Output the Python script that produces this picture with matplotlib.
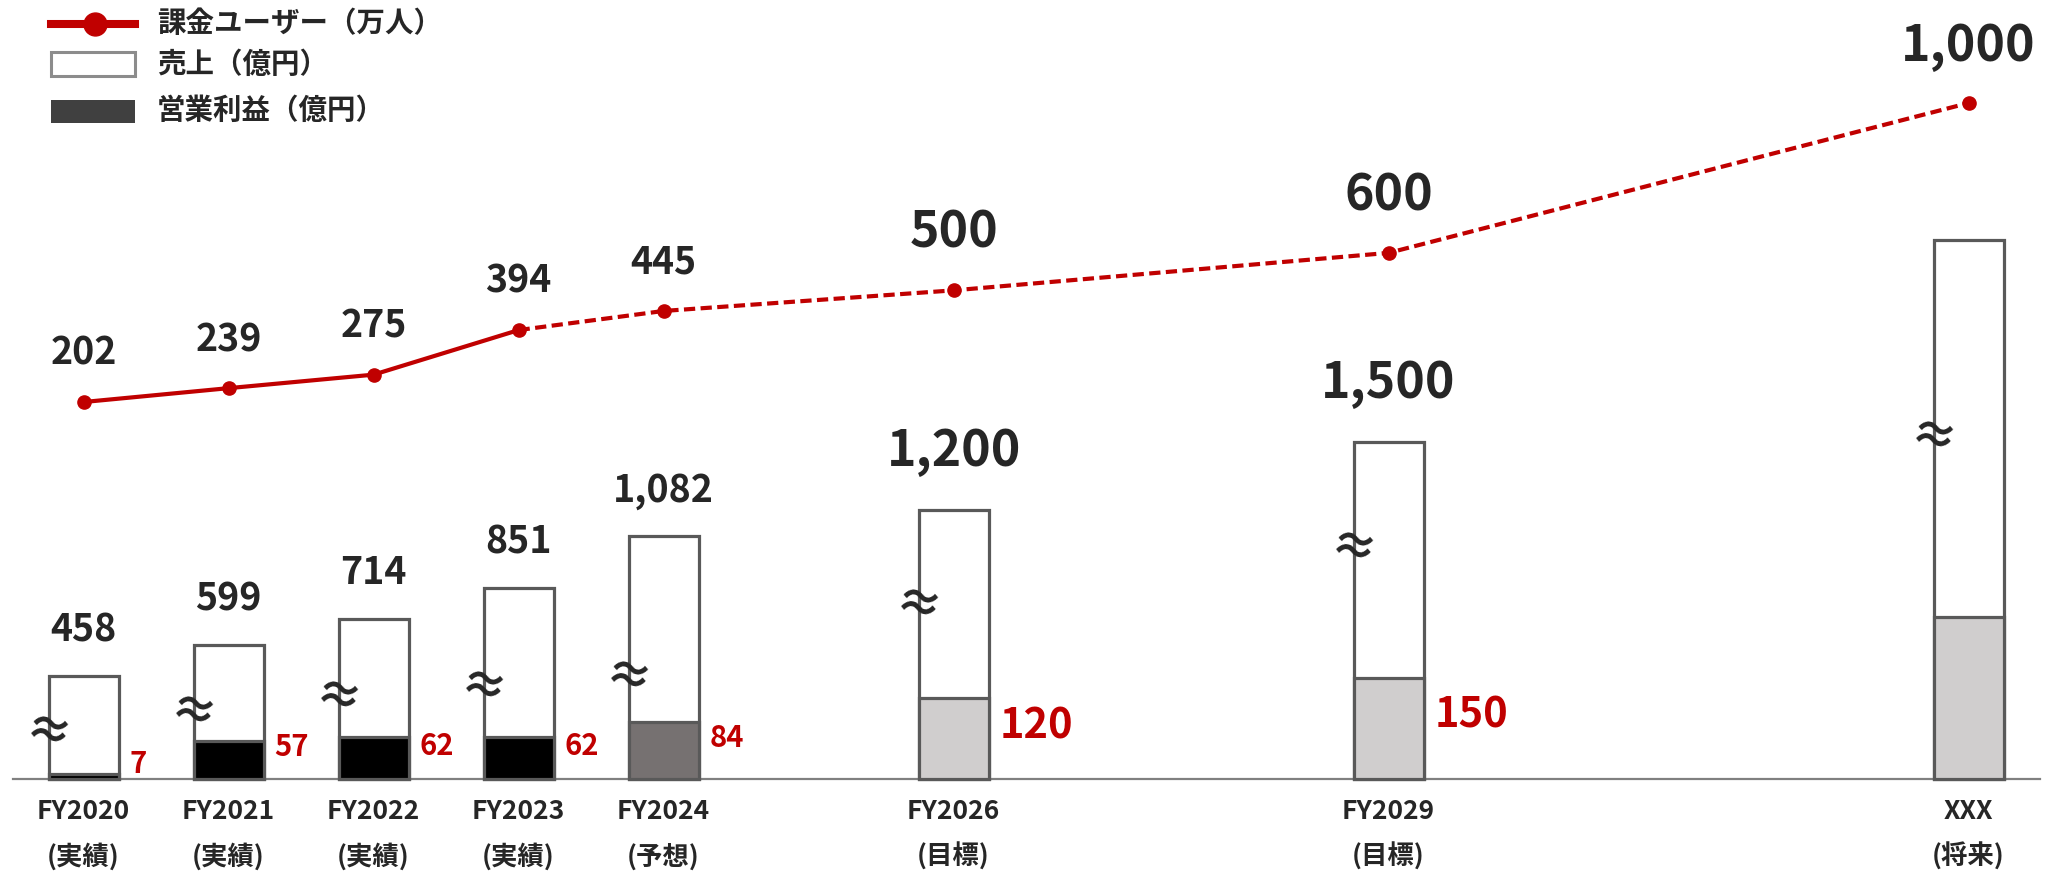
import numpy as np
import matplotlib
matplotlib.use('Agg')
import matplotlib.pyplot as plt
from matplotlib.lines import Line2D
from matplotlib.patches import Rectangle

plt.rcParams['font.family'] = ['Noto Sans CJK JP', 'DejaVu Sans']

# DATA
years = ['FY2020', 'FY2021', 'FY2022', 'FY2023', 'FY2024', 'FY2026', 'FY2029', 'XXX']
notes = ['(実績)', '(実績)', '(実績)', '(実績)', '(予想)', '(目標)', '(目標)', '(将来)']
sales = [458, 599, 714, 851, 1082, 1200, 1500, 2400]      # 売上（億円）
profit = [7, 57, 62, 62, 84, 120, 150, 240]              # 営業利益（億円）
users = [202, 239, 275, 394, 445, 500, 600, 1000]        # 課金ユーザー（万人）
sales_labels = ['458', '599', '714', '851', '1,082', '1,200', '1,500', '']
profit_labels = ['7', '57', '62', '62', '84', '120', '150', '']
users_labels = ['202', '239', '275', '394', '445', '500', '600', '1,000']

# LAYOUT / STYLE
x = np.array([0, 1, 2, 3, 4, 6, 9, 13])
bar_w = 0.483
RED = '#C00000'
DARK = '#262626'
EDGE = '#595959'
profit_colors = ['#000000'] * 4 + ['#767171'] + ['#D0CECE'] * 3
big = [False, False, False, False, False, True, True, True]
wave_frac = [0.44, 0.48, 0.50, 0.47, 0.41, 0.64, 0.68, 0.63]

W, H = 2048, 871
base = 92                       # baseline, px from bottom
sales_ppu = 0.2245              # px per 億円 (sales)
users_ppu, users_off = 0.3747, 301.3

fig = plt.figure(figsize=(W / 100, H / 100), dpi=100)
ax = fig.add_axes([0, 0, 1, 1])
ax2 = ax.twinx()
ax3 = ax.twinx()

xlim = (-83.6 / 145, (W - 83.6) / 145)
ylim_sales = (-base / sales_ppu, (H - base) / sales_ppu)
for a in (ax, ax2, ax3):
    a.set_xlim(*xlim)
    a.axis('off')
ax.set_ylim(*ylim_sales)
ax2.set_ylim(ylim_sales[0] / 3, ylim_sales[1] / 3)
ax3.set_ylim((-base - users_off) / users_ppu, (H - base - users_off) / users_ppu)

# SALES BARS
ax.bar(x, sales, width=bar_w, color='white', edgecolor=EDGE, linewidth=2.3, zorder=2)
ax.axhline(0, xmin=13 / W, xmax=2040 / W, color='#808080', lw=1.6, zorder=1)

for xi, v, lab, b in zip(x, sales, sales_labels, big):
    if lab:
        ax.annotate(lab, (xi, v), xytext=(0, 42 if b else 33), textcoords='offset points',
                    ha='center', va='center', fontsize=36 if b else 27,
                    fontweight='bold', color=DARK)

# wave marks on the bar edges
for xi, v, f in zip(x, sales, wave_frac):
    ax.text(xi - bar_w / 2 - 0.005, v * f, '≈', ha='center', va='center', fontsize=34,
            fontweight='bold', color=DARK, rotation=-12, zorder=3)

# PROFIT BARS
ax2.bar(x, profit, width=bar_w, color=profit_colors, edgecolor=EDGE, linewidth=2.3, zorder=2)
for xi, v, lab, b in zip(x, profit, profit_labels, big):
    if lab:
        ax2.annotate(lab, (xi + bar_w / 2, v / 2), xytext=(8, 9), textcoords='offset points',
                     ha='left', va='center', fontsize=30 if b else 21,
                     fontweight='bold', color=RED)

# USERS LINE
ax3.plot(x[:4], users[:4], color=RED, lw=3, solid_capstyle='round', zorder=4)
ax3.plot(x[3:], users[3:], color=RED, lw=3, dashes=(2.7, 1.3), zorder=4)
ax3.plot(x, users, 'o', color=RED, ms=9.5, zorder=5)
for xi, v, lab, b in zip(x, users, users_labels, big):
    ax3.annotate(lab, (xi, v), xytext=(0, 41 if b else 35), textcoords='offset points',
                 ha='center', va='center', fontsize=36 if b else 27,
                 fontweight='bold', color=DARK)

# X LABELS
tr = ax.get_xaxis_transform()
for xi, yr, nt in zip(x, years, notes):
    ax.text(xi, (H - 811) / H, yr, transform=tr, ha='center', va='center',
            fontsize=19, fontweight='bold', color=DARK)
    ax.text(xi, (H - 857) / H, nt, transform=tr, ha='center', va='center',
            fontsize=19, fontweight='bold', color=DARK)

# LEGEND
def fx(px):
    return px / W

def fy(py):
    return 1 - py / H

fig.add_artist(Line2D([fx(51), fx(135)], [fy(24), fy(24)], color=RED, lw=5.8,
                      transform=fig.transFigure))
fig.add_artist(Line2D([fx(95)], [fy(24)], marker='o', ms=16.5, color=RED,
                      transform=fig.transFigure))
fig.add_artist(Rectangle((fx(51), fy(76)), fx(84), 24 / H, facecolor='white',
                         edgecolor='#8C8C8C', lw=2.2, transform=fig.transFigure))
fig.add_artist(Rectangle((fx(51), fy(123)), fx(84), 23 / H, facecolor='#404040',
                         edgecolor='none', transform=fig.transFigure))
leg_txt = ['課金ユーザー（万人）', '売上（億円）', '営業利益（億円）']
for ty, t in zip([24, 65, 111], leg_txt):
    fig.text(fx(157), fy(ty), t, ha='left', va='center', fontsize=20.5,
             fontweight='bold', color=DARK)

fig.savefig('out.png', dpi=100)
